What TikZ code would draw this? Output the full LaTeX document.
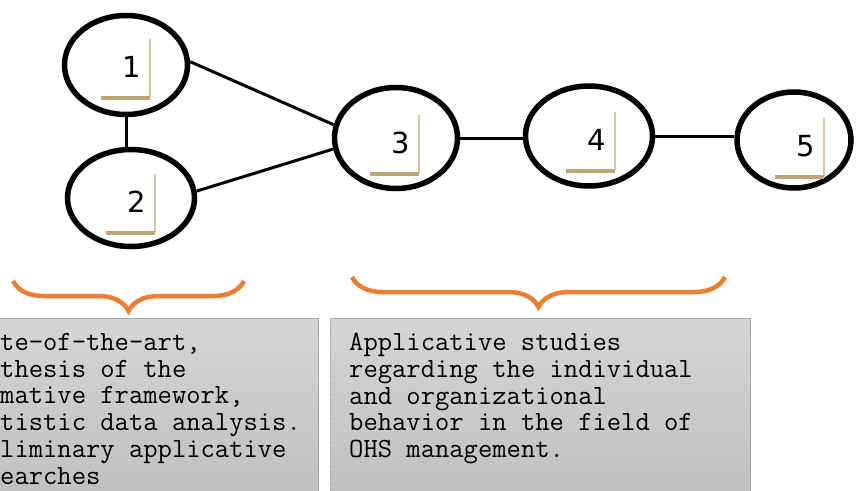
\documentclass[tikz,border=0pt]{standalone}
\usepackage{fontspec}
\usepackage{xcolor}
\usetikzlibrary{positioning,shapes.geometric,decorations.pathreplacing}
\newfontfamily\digitfont{DejaVu Sans}
\definecolor{brace-o}{HTML}{ED7D31}
\definecolor{mark-t}{HTML}{BCA874}
\definecolor{mark-l}{HTML}{D6C9A2}
\definecolor{box-e}{HTML}{A6A6A6}
\definecolor{box-t}{HTML}{D5D5D5}
\definecolor{box-b}{HTML}{BDBDBD}
\definecolor{sel-b}{HTML}{A9BDD3}

\begin{document}
\begin{tikzpicture}
[
x=1pt, y=-1pt,
cell-a/.style={ellipse, draw, line width=5.5pt, inner sep=0pt},
num-a/.style={black, font=\digitfont\fontsize{29}{29}\selectfont},
link-a/.style={line width=3pt},
mark-a/.style={mark-t, line width=3.5pt},
mark-b/.style={mark-l, line width=2.5pt},
brac-a/.style={brace-o, line width=4.5pt, decorate, decoration={brace, mirror, amplitude=30pt}},
box-a/.style={draw=box-e, line width=1.2pt, top color=box-t, bottom color=box-b, anchor=north west,
              inner sep=0pt, minimum height=200pt},
text-a/.style={black, anchor=north west, align=left, inner sep=0pt,
               font=\ttfamily\fontsize{27.8}{26.8}\selectfont}
]
\useasboundingbox (0,0) rectangle (856,490);
\clip (0,0) rectangle (856,490);

% circles of the chain
\node (cell-1) [cell-a, minimum width=123pt, minimum height=99pt] at (126,65)  {};
\node (cell-2) [cell-a, minimum width=127pt, minimum height=97pt]  at (131,198) {};
\node (cell-3) [cell-a, minimum width=123pt, minimum height=101pt] at (396,138) {};
\node (cell-4) [cell-a, minimum width=127pt, minimum height=100pt] at (589,136) {};
\node (cell-5) [cell-a, minimum width=114pt, minimum height=96pt]  at (794,140) {};

% numbers
\node (num-1) [num-a] at (132,67)  {1};
\node (num-2) [num-a] at (137,202) {2};
\node (num-3) [num-a] at (401,143) {3};
\node (num-4) [num-a] at (597,140) {4};
\node (num-5) [num-a] at (806,146) {5};

% corner marks
\foreach \n in {1,...,5}
{
  \draw [mark-b] ([shift={(18,-28)}]num-\n.center) -- ++(0,58);
  \draw [mark-a] ([shift={(18,31)}]num-\n.center)  -- ++(-49,0);
}

% links
\draw [link-a] (cell-1.south) -- (cell-1.south |- cell-2.north);
\draw [link-a] (cell-1.3)     -- (cell-3.168);
\draw [link-a] (cell-2.6)     -- (cell-3.190);
\draw [link-a] (cell-3.east)  -- (cell-3.east -| cell-4.west);
\draw [link-a] (cell-4.east)  -- (cell-4.east -| cell-5.west);

% text boxes
\node (box-1) [box-a, minimum width=382pt] at (-64,318) {};
\node (box-2) [box-a, minimum width=420pt] at (330,318) {};
\draw [sel-b, line width=1pt, dashed] (box-2.north west) -- (box-2.south west);
\node (text-1) [text-a] at (0,333)
  {te-of-the-art,\\thesis of the\\mative framework,\\tistic data analysis.\\liminary applicative\\earches};
\node (text-2) [text-a] at (349,333)
  {Applicative studies\\regarding the individual\\and organizational\\behavior in the field of\\OHS management.};

% braces
\coordinate (brac-1-a) at (13,281);
\coordinate (brac-1-b) at (244,281);
\coordinate (brac-2-a) at (352,277);
\coordinate (brac-2-b) at (725,277);
\draw [brac-a] (brac-1-a) -- (brac-1-b);
\draw [brac-a] (brac-2-a) -- (brac-2-b);
\end{tikzpicture}
\end{document}
